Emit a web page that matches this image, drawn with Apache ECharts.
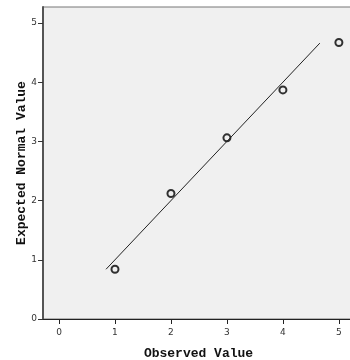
<!DOCTYPE html>
<html><head><meta charset="utf-8">
<script src="https://cdn.jsdelivr.net/npm/echarts@6/dist/echarts.min.js"></script>
<style>html,body{margin:0;padding:0;background:#fff}#c{width:350px;height:360px}</style>
</head><body><div id="c"></div>
<script>
const observed = [1, 2, 3, 4, 5];
const expected = [0.84, 2.12, 3.06, 3.87, 4.67];
const refLine = [[0.84, 0.84], [4.66, 4.66]];
const xTicks = [0, 1, 2, 3, 4, 5];
const yTicks = [0, 1, 2, 3, 4, 5];

const chart = echarts.init(document.getElementById('c'));
chart.setOption({
  animation: false,
  grid: { left: 43, top: 7, right: -4, bottom: 41, outerBoundsMode: 'none', containLabel: false,
          show: true, backgroundColor: '#f0f0f0', borderColor: '#777', borderWidth: 1 },
  xAxis: {
    type: 'value', min: -0.286, max: 5.27,
    name: 'Observed Value', nameLocation: 'middle', nameGap: 28, nameMoveOverlap: false,
    nameTextStyle: { fontFamily: 'Liberation Mono', fontWeight: 'bold', fontSize: 13, color: '#111' },
    axisLine: { show: true, onZero: false, lineStyle: { color: '#222', width: 1 } },
    axisTick: { show: true, length: 5, customValues: xTicks, lineStyle: { color: '#222' } },
    axisLabel: { customValues: xTicks, fontFamily: 'DejaVu Sans', fontSize: 9, color: '#333', margin: 9 },
    splitLine: { show: false }
  },
  yAxis: {
    type: 'value', min: 0, max: 5.27,
    name: 'Expected Normal Value', nameLocation: 'middle', nameGap: 15, nameRotate: 90, nameMoveOverlap: false,
    nameTextStyle: { fontFamily: 'Liberation Mono', fontWeight: 'bold', fontSize: 13, color: '#111' },
    axisLine: { show: true, onZero: false, lineStyle: { color: '#555', width: 2 } },
    axisTick: { show: true, length: 5, customValues: yTicks, lineStyle: { color: '#333' } },
    axisLabel: { customValues: yTicks, fontFamily: 'DejaVu Sans', fontSize: 9, color: '#333', margin: 6 },
    splitLine: { show: false }
  },
  series: [
    { type: 'line', data: refLine, symbol: 'none', lineStyle: { color: '#222', width: 1 }, silent: true },
    { type: 'scatter', data: observed.map((v, i) => [v, expected[i]]), symbol: 'circle', symbolSize: 7,
      itemStyle: { color: '#f0f0f0', borderColor: '#000', borderWidth: 2 } }
  ]
});
</script></body></html>
